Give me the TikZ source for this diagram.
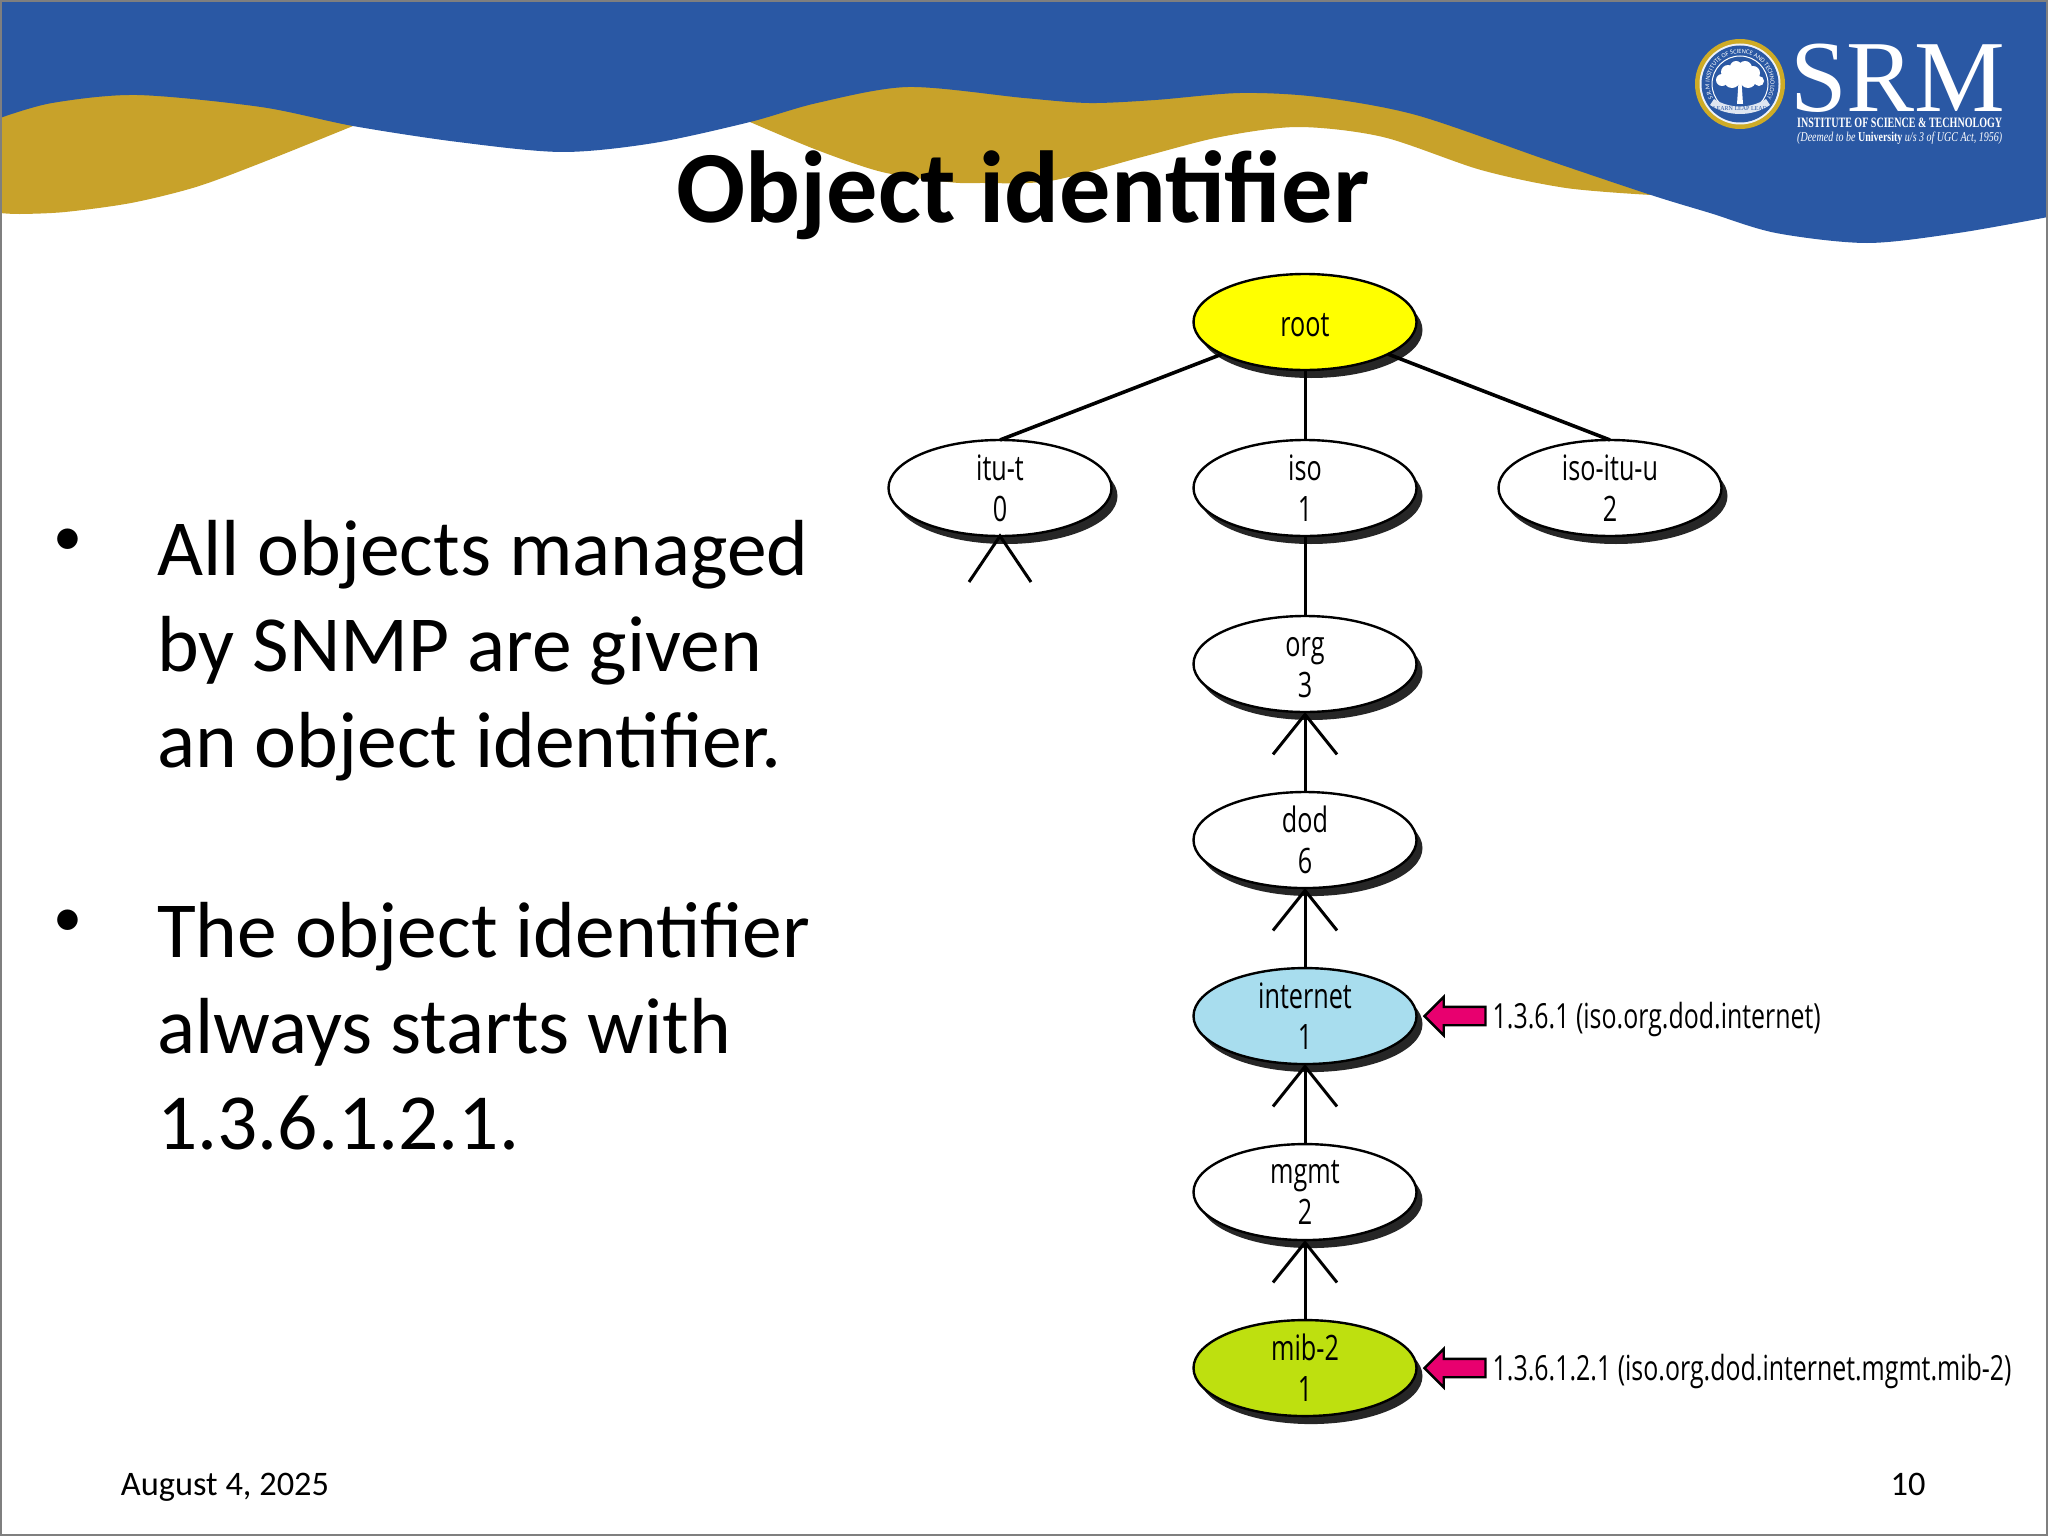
\documentclass[tikz,border=0pt]{standalone}
\usepackage{fontspec}
\usepackage{graphicx}
\usepackage{tikz}
\usetikzlibrary{positioning,arrows.meta,shapes.geometric,shapes.arrows,shadows,decorations.text}
\setmainfont{Carlito}
\newfontfamily\figfont[FakeStretch=0.72]{Open Sans}
\newfontfamily\logofont{Liberation Serif}
\definecolor{bandblue}{HTML}{2A58A4}
\definecolor{bandgold}{HTML}{C8A22A}
\definecolor{rootyellow}{HTML}{FFFF00}
\definecolor{inetblue}{HTML}{A8DDEE}
\definecolor{mibgreen}{HTML}{BEE00F}
\definecolor{markpink}{HTML}{E8006F}
\definecolor{framegrey}{HTML}{7F7F7F}

\begin{document}
\begin{tikzpicture}[x=1pt, y=-1pt]
  \tikzset{oidnode/.style={ellipse,draw=black,fill=white,line width=2.4pt,inner sep=0pt,outer sep=0pt,
             minimum width=223pt,minimum height=96pt,align=center,
             font=\figfont\fontsize{35}{41}\selectfont,
             drop shadow={shadow xshift=6pt,shadow yshift=-8pt,fill=black!85,opacity=1}},
           branch/.style={draw=black,line width=3.6pt},
           stem/.style={draw=black,line width=3pt,-{Straight Barb[length=40pt,width=64pt]}},
           pinkmark/.style={single arrow,shape border rotate=180,fill=markpink,draw=black,line width=2.4pt,
             inner sep=8pt,outer sep=0pt,minimum height=61pt,minimum width=38pt,
             single arrow head extend=10pt,single arrow head indent=0pt},
           oidlabel/.style={inner sep=0pt,yshift=-3pt,font=\figfont\fontsize{34.6}{38}\selectfont},
           bodytext/.style={anchor=north west,inner sep=0pt,align=left,font=\fontsize{79.5}{96}\selectfont},
           bulletmark/.style={inner sep=0pt,font=\fontsize{58}{60}\selectfont},
           foottext/.style={anchor=base,inner sep=0pt,font=\fontsize{34.4}{38}\selectfont}}
  \useasboundingbox (0,0) rectangle (2048,1536);
  \fill[white] (0,0) rectangle (2048,1536);

  % header band
  \fill[bandgold] (0,90) -- (353,90) -- plot[smooth] coordinates {(353,126) (261,163) (196,187) (131,203) (65,212) (20,214) (0,213)} -- cycle;
  \fill[bandgold] (750,80) -- (1651,80) -- plot[smooth] coordinates {(1651,195) (1566,188) (1481,170) (1383,137) (1298,127) (1220,137) (1142,157) (1050,181) (980,183) (948,182) (882,172) (817,150) (750,122)} -- cycle;
  \fill[bandblue] (0,0) -- (2048,0) -- plot[smooth] coordinates {(2048,217) (1958,233) (1867,243) (1776,233) (1710,213) (1651,195) (1547,160) (1416,115) (1318,97) (1240,93) (1155,100) (1089,103) (1024,98) (908,87) (817,103) (750,122) (654,143) (562,152) (458,142) (353,126) (261,107) (137,95) (52,103) (0,118)} -- cycle;

  % seal
  \begin{scope}[shift={(1740,84)},y=1pt]
    \fill[bandgold!90!yellow] (0,0) circle[radius=45];
    \fill[white!92!bandblue] (0,0) circle[radius=40.5];
    \fill[bandblue] (0,0) circle[radius=38.5];
    \draw[white,line width=1pt] (0,0) circle[radius=28];
    \path[decorate,decoration={text along path,text align=center,
      text={|\fontsize{6.4}{6.4}\selectfont\color{white}|S.R.M INSTITUTE OF SCIENCE AND TECHNOLOGY}}]
      (0,0) ++(215:30.5) arc[start angle=215,end angle=-35,radius=30.5];
    \foreach \tx/\ty/\tr in {-18/4/6,-12/12/7,-4/17/6,5/16/7,13/11/7,19/3/5,-8/4/8,8/4/8,0/8/9}
      \fill[white] (\tx,\ty) circle[radius=\tr];
    \fill[white] (-3,-20) -- (3,-20) -- (1.5,2) -- (-1.5,2) -- cycle;
    \fill[white!85!bandblue] (-30,-21) .. controls (-12,-33) and (12,-33) .. (30,-21) -- (26,-15) .. controls (10,-25) and (-10,-25) .. (-26,-15) -- cycle;
    \node[text=bandblue,inner sep=0pt] (seallabel) at (0,-25) {\logofont\fontsize{6}{6}\selectfont LEARN LEAP LEAD};
  \end{scope}
  \node[inner sep=0pt,text=white,anchor=base west] (srmname) at (1790,112) {\logofont\fontsize{102}{102}\selectfont SRM};
  \node[inner sep=0pt,text=white,anchor=base west] (srmfull) at (1797,127.5) {\resizebox{205pt}{9.5pt}{\logofont\bfseries INSTITUTE OF SCIENCE \& TECHNOLOGY}};
  \node[inner sep=0pt,text=white,anchor=base west] (srmdeemed) at (1797,141) {\resizebox{205pt}{9.5pt}{\logofont\itshape (Deemed to be \textbf{\upshape University} u/s 3 of UGC Act, 1956)}};

  \node[anchor=base,inner sep=0pt,font=\fontsize{102.3}{110}\selectfont\bfseries] (slidetitle) at (1023,222) {Object identifier};

  \node[bulletmark] (bulletone) at (68,542) {•};
  \node[bodytext] (pointone) at (157,520) {All objects managed\\by SNMP are given\\an object identifier.};
  \node[bulletmark] (bullettwo) at (68,923) {•};
  \node[bodytext] (pointtwo) at (157,902) {The object identifier\\always starts with\\1.3.6.1.2.1.};

  % the tree
  \node[oidnode,fill=rootyellow] (root) at (1305,322) {\rule{0pt}{30pt}root};
  \node[oidnode,below=70pt of root] (iso) {iso\\1};
  \node[oidnode,left=82pt of iso] (itut) {itu-t\\0};
  \node[oidnode,right=82pt of iso] (isoitu) {iso-itu-u\\2};
  \node[oidnode,below=80pt of iso] (org) {\rule{0pt}{26pt}org\\3};
  \node[oidnode,below=80pt of org] (dod) {dod\\6};
  \node[oidnode,below=80pt of dod,fill=inetblue] (internet) {internet\\1};
  \node[oidnode,below=80pt of internet] (mgmt) {mgmt\\2};
  \node[oidnode,below=80pt of mgmt,fill=mibgreen] (mib) {mib-2\\1};

  \draw[branch] (root) -- (itut.north);
  \draw[branch] (root) -- (isoitu.north);
  \draw[line width=3pt] (root) -- (iso);
  \draw[line width=3pt] (iso) -- (org);
  \draw[stem] (dod) -- (org.south);
  \draw[stem] (internet) -- (dod.south);
  \draw[stem] (mgmt) -- (internet.south);
  \draw[stem] (mib) -- (mgmt.south);
  \coordinate (itubarbl) at (969,582);
  \coordinate (itubarbr) at (1031,582);
  \draw[line width=3pt] (itubarbl) -- (itut.south) -- (itubarbr);

  \node[pinkmark,right=8pt of internet] (inetmark) {};
  \node[pinkmark,right=8pt of mib] (mibmark) {};
  \node[oidlabel,right=7pt of inetmark] (inetlabel) {1.3.6.1 (iso.org.dod.internet)};
  \node[oidlabel,right=7pt of mibmark] (miblabel) {1.3.6.1.2.1 (iso.org.dod.internet.mgmt.mib-2)};

  \node[foottext] (footdate) at (225,1495) {August 4, 2025};
  \node[foottext] (footpage) at (1908,1495) {10};
  \draw[framegrey,line width=2pt] (1,1) rectangle (2047,1535);
\end{tikzpicture}
\end{document}
